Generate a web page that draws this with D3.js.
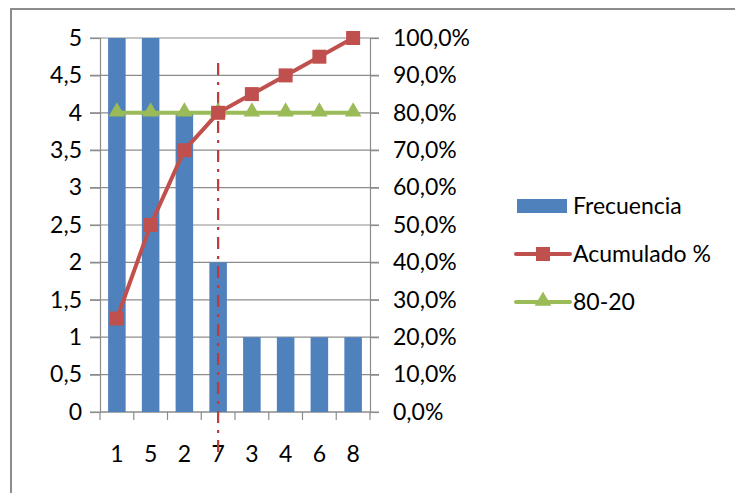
<!DOCTYPE html>
<html>
<head>
<meta charset="utf-8">
<script src="https://cdn.jsdelivr.net/npm/d3@7"></script>
<style>
  html, body { margin: 0; padding: 0; background: #fff; }
  svg { display: block; }
  text { font-family: Lato, "Liberation Sans", sans-serif; fill: #000; }
</style>
</head>
<body>
<svg id="chart" width="735" height="493"></svg>
<script>
// Pareto data: categories sorted by frequency
const categories = ["1", "5", "2", "7", "3", "4", "6", "8"];
const frecuencia = [5, 5, 4, 2, 1, 1, 1, 1];
const acumulado = [0.25, 0.50, 0.70, 0.80, 0.85, 0.90, 0.95, 1.00];
const linea8020 = [0.80, 0.80, 0.80, 0.80, 0.80, 0.80, 0.80, 0.80];
const leftTicks = [0, 0.5, 1, 1.5, 2, 2.5, 3, 3.5, 4, 4.5, 5];
const rightTicks = [0, 0.1, 0.2, 0.3, 0.4, 0.5, 0.6, 0.7, 0.8, 0.9, 1.0];
const seriesNames = ["Frecuencia", "Acumulado %", "80-20"];
const corteCategoria = "7";

const colors = { bar: "#4F81BD", cum: "#C0504D", ref: "#9BBB59", grid: "#8c8c8c", frame: "#8c8c8c", cut: "#C0393B" };
const fontSize = "23px";

const svg = d3.select("#chart");
const plot = { left: 100, right: 370, top: 38, bottom: 412 };

// chart frame
svg.append("rect")
  .attr("x", 11).attr("y", 9).attr("width", 760).attr("height", 520)
  .attr("fill", "#fff").attr("stroke", colors.frame).attr("stroke-width", 2);

const x = d3.scaleBand().domain(categories)
  .range([plot.left, plot.right]).paddingInner(0.48).paddingOuter(0.24);
const xc = c => x(c) + x.bandwidth() / 2;
const yL = d3.scaleLinear().domain([0, 5]).range([plot.bottom, plot.top]);
const yR = d3.scaleLinear().domain([0, 1]).range([plot.bottom, plot.top]);

const fmtL = d3.format(".1~f");
const fmtLeft = v => fmtL(v).replace(".", ",");
const fmtRight = v => d3.format(".1f")(v * 100).replace(".", ",") + "%";

// horizontal gridlines (extend across both tick marks)
svg.append("g").selectAll("line").data(leftTicks).join("line")
  .attr("x1", plot.left - 10).attr("x2", plot.right + 9)
  .attr("y1", d => yL(d)).attr("y2", d => yL(d))
  .attr("stroke", colors.grid).attr("stroke-width", 1.2);

// left axis
const gL = svg.append("g").attr("transform", `translate(${plot.left},0)`)
  .call(d3.axisLeft(yL).tickValues(leftTicks).tickFormat(fmtLeft).tickSize(10).tickPadding(8));
// right axis
const gR = svg.append("g").attr("transform", `translate(${plot.right},0)`)
  .call(d3.axisRight(yR).tickValues(rightTicks).tickFormat(fmtRight).tickSize(9).tickPadding(14));
// bottom axis with ticks at category boundaries
const gB = svg.append("g").attr("transform", `translate(0,${plot.bottom})`)
  .call(d3.axisBottom(x).tickSize(0).tickPadding(34));
const step = x.step();
gB.selectAll(".bnd").data(d3.range(categories.length + 1)).join("line")
  .attr("class", "bnd")
  .attr("x1", i => plot.left + i * step).attr("x2", i => plot.left + i * step)
  .attr("y1", 0).attr("y2", 8)
  .attr("stroke", colors.grid).attr("stroke-width", 1.2);

[gL, gR, gB].forEach(g => {
  g.select(".domain").attr("stroke", colors.grid).attr("stroke-width", 1.2);
  g.selectAll(".tick line").attr("stroke", colors.grid).attr("stroke-width", 1.2);
  g.selectAll("text").style("font-size", fontSize).attr("fill", "#111");
});
gB.select(".domain").attr("d", `M${plot.left},0H${plot.right}`);

// bars
svg.append("g").selectAll("rect").data(frecuencia).join("rect")
  .attr("x", (d, i) => x(categories[i]))
  .attr("width", x.bandwidth())
  .attr("y", d => yL(d))
  .attr("height", d => yL(0) - yL(d))
  .attr("fill", colors.bar);

// 80% cut-off marker line
svg.append("line")
  .attr("x1", xc(corteCategoria)).attr("x2", xc(corteCategoria))
  .attr("y1", plot.top + 25).attr("y2", plot.bottom + 40)
  .attr("stroke", colors.cut).attr("stroke-width", 2.2)
  .attr("stroke-dasharray", "12,7,3,7");

const line = d3.line().x((d, i) => xc(categories[i])).y(d => yR(d));

// 80-20 reference line
svg.append("path").datum(linea8020).attr("d", line)
  .attr("fill", "none").attr("stroke", colors.ref).attr("stroke-width", 4);
const tri = d3.symbol().type(d3.symbolTriangle).size(120);
svg.append("g").selectAll("path").data(linea8020).join("path")
  .attr("d", tri)
  .attr("transform", (d, i) => `translate(${xc(categories[i])},${yR(d) - 1})`)
  .attr("fill", colors.ref);

// cumulative percentage line
svg.append("path").datum(acumulado).attr("d", line)
  .attr("fill", "none").attr("stroke", colors.cum).attr("stroke-width", 4);
svg.append("g").selectAll("rect").data(acumulado).join("rect")
  .attr("x", (d, i) => xc(categories[i]) - 7)
  .attr("y", d => yR(d) - 7)
  .attr("width", 14).attr("height", 14)
  .attr("fill", colors.cum);

// legend
const legend = svg.append("g").attr("transform", "translate(516,206)");
const rowH = 48;
seriesNames.forEach((name, i) => {
  const g = legend.append("g").attr("transform", `translate(0,${i * rowH})`);
  if (i === 0) {
    g.append("rect").attr("x", 1).attr("y", -7).attr("width", 50).attr("height", 14).attr("fill", colors.bar);
  } else {
    const c = i === 1 ? colors.cum : colors.ref;
    g.append("line").attr("x1", 0).attr("x2", 54).attr("y1", 0).attr("y2", 0)
      .attr("stroke", c).attr("stroke-width", 4).attr("stroke-linecap", "round");
    if (i === 1) {
      g.append("rect").attr("x", 20).attr("y", -7).attr("width", 14).attr("height", 14).attr("fill", c);
    } else {
      g.append("path").attr("d", tri).attr("transform", "translate(27,-1)").attr("fill", c);
    }
  }
  g.append("text").attr("x", 57).attr("y", 0).attr("dy", "0.35em")
    .style("font-size", fontSize).attr("fill", "#111").text(name);
});
</script>
</body>
</html>
